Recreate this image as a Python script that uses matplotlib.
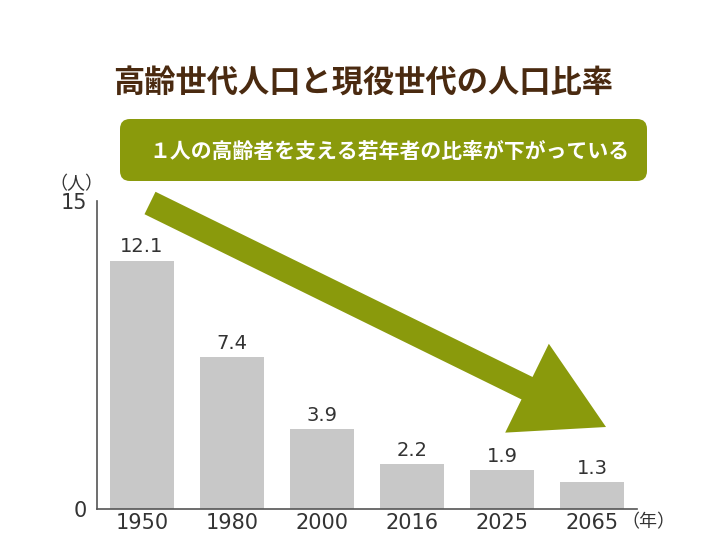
import matplotlib
matplotlib.use('Agg')
import matplotlib.pyplot as plt
from matplotlib.patches import FancyBboxPatch, Polygon
import numpy as np

plt.rcParams['font.family'] = ['Noto Sans CJK JP', 'DejaVu Sans']

years = ['1950', '1980', '2000', '2016', '2025', '2065']
ratios = [12.1, 7.4, 3.9, 2.2, 1.9, 1.3]
title = '高齢世代人口と現役世代の人口比率'
banner = '１人の高齢者を支える若年者の比率が下がっている'
y_unit = '（人）'
x_unit = '（年）'

W, H = 726, 545
fig = plt.figure(figsize=(W / 100, H / 100), dpi=100)
fig.patch.set_facecolor('white')

ax = fig.add_axes([97 / W, (H - 509) / H, 540 / W, 308 / H])
xpos = np.arange(len(years))
ax.bar(xpos, ratios, width=0.72, color='#c8c8c8', zorder=2)
for i, v in zip(xpos, ratios):
    ax.text(i, v + 0.2, f'{v}', ha='center', va='bottom', fontsize=14,
            color='#333333', family='DejaVu Sans')
ax.set_xlim(-0.5, 5.5)
ax.set_ylim(0, 15)
ax.set_yticks([0, 15])
ax.set_yticklabels(['0', '15'], family='DejaVu Sans')
ax.set_xticks(xpos)
ax.set_xticklabels(years, family='DejaVu Sans')
ax.tick_params(length=0, labelsize=15, colors='#333333')
ax.tick_params(axis='x', pad=3)
ax.tick_params(axis='y', pad=7)
for s in ['top', 'right']:
    ax.spines[s].set_visible(False)
for s in ['left', 'bottom']:
    ax.spines[s].set_color('#555555')
    ax.spines[s].set_linewidth(1.2)
ax.set_facecolor('none')

# overlay in pixel coordinates for decorations
oax = fig.add_axes([0, 0, 1, 1], zorder=5)
oax.set_xlim(0, W)
oax.set_ylim(H, 0)
oax.axis('off')
oax.patch.set_alpha(0)

green = '#8a9a0c'
oax.text(363, 83, title, ha='center', va='center', fontsize=22.5,
         fontweight='bold', color='#4a2a10')

r = 10
bx0, by0, bx1, by1 = 120, 119, 647, 181
oax.add_patch(FancyBboxPatch((bx0 + r, by0 + r), bx1 - bx0 - 2 * r, by1 - by0 - 2 * r,
                             boxstyle=f'round,pad={r}', fc=green, ec='none'))
oax.text(389, 151, banner, ha='center', va='center', fontsize=15,
         fontweight='bold', color='white')

# big arrow
start = np.array([150.0, 203.0])
tip = np.array([606.0, 427.0])
u = (tip - start) / np.linalg.norm(tip - start)
n = np.array([-u[1], u[0]])
sw, hw, hl = 25, 99, 88
base = tip - hl * u
pts = [start + n * sw / 2, base + n * sw / 2, base + n * hw / 2, tip,
       base - n * hw / 2, base - n * sw / 2, start - n * sw / 2]
oax.add_patch(Polygon(pts, closed=True, fc=green, ec='none'))

oax.text(76, 184, y_unit, ha='center', va='center', fontsize=13, color='#333333')
oax.text(621, 522, x_unit, ha='left', va='center', fontsize=13, color='#333333')

fig.savefig('out.png', dpi=100)
